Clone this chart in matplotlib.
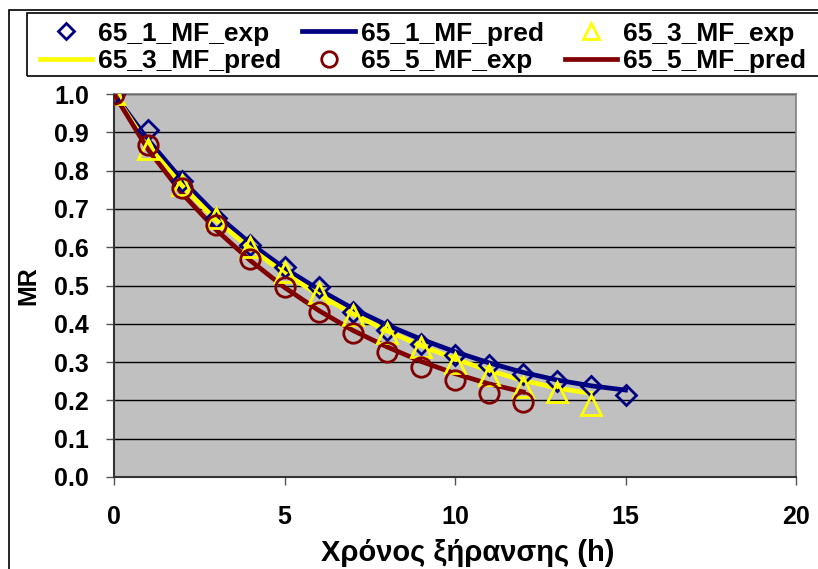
import matplotlib
matplotlib.use("Agg")
import matplotlib.pyplot as plt
from matplotlib.patches import Rectangle

plt.rcParams['font.family'] = ['Liberation Sans', 'DejaVu Sans']
plt.rcParams['font.weight'] = 'bold'

t1 = [0, 1, 2, 3, 4, 5, 6, 7, 8, 9, 10, 11, 12, 13, 14, 15]
mr1_exp = [1.0, 0.905, 0.772, 0.675, 0.607, 0.547, 0.497, 0.432, 0.385, 0.347, 0.318, 0.293, 0.27, 0.25, 0.237, 0.213]
mr1_pred = [1.0, 0.88, 0.775, 0.685, 0.61, 0.545, 0.49, 0.44, 0.397, 0.36, 0.327, 0.298, 0.273, 0.253, 0.238, 0.227]

t3 = [0, 1, 2, 3, 4, 5, 6, 7, 8, 9, 10, 11, 12, 13, 14]
mr3_exp = [1.0, 0.856, 0.762, 0.675, 0.6, 0.535, 0.48, 0.424, 0.377, 0.34, 0.298, 0.267, 0.236, 0.222, 0.188]
mr3_pred = [1.0, 0.865, 0.76, 0.67, 0.597, 0.532, 0.476, 0.426, 0.382, 0.343, 0.308, 0.278, 0.252, 0.232, 0.218]

t5 = [0, 1, 2, 3, 4, 5, 6, 7, 8, 9, 10, 11, 12]
mr5_exp = [1.0, 0.867, 0.755, 0.657, 0.57, 0.497, 0.432, 0.375, 0.327, 0.288, 0.252, 0.22, 0.197]
mr5_pred = [1.0, 0.855, 0.74, 0.645, 0.565, 0.495, 0.435, 0.383, 0.34, 0.302, 0.27, 0.243, 0.222]

xticks = [0, 5, 10, 15, 20]
yticks = [0.0, 0.1, 0.2, 0.3, 0.4, 0.5, 0.6, 0.7, 0.8, 0.9, 1.0]

W, H = 818, 569
fig = plt.figure(figsize=(W / 100, H / 100), dpi=100)
fig.patch.set_facecolor('white')

left, right, top, bottom = 114, 796, 94, 477
ax = fig.add_axes([left / W, 1 - bottom / H, (right - left) / W, (bottom - top) / H])
ax.set_facecolor('#C0C0C0')

navy = '#000080'
yel = '#FFFF00'
dred = '#800000'
FS = 18
LFS = 19

h1p, = ax.plot(t1, mr1_pred, color=navy, lw=3.4, zorder=3, label='65_1_MF_pred')
h3p, = ax.plot(t3, mr3_pred, color=yel, lw=3.4, zorder=3, label='65_3_MF_pred')
h5p, = ax.plot(t5, mr5_pred, color=dred, lw=3.4, zorder=3, label='65_5_MF_pred')
h1e, = ax.plot(t1, mr1_exp, ls='none', marker='D', ms=10.5, mfc='none', mec=navy, mew=2, zorder=4, label='65_1_MF_exp')
h3e, = ax.plot(t3, mr3_exp, ls='none', marker='^', ms=15, mfc='none', mec=yel, mew=2, zorder=4, label='65_3_MF_exp')
h5e, = ax.plot(t5, mr5_exp, ls='none', marker='o', ms=14, mfc='none', mec=dred, mew=2, zorder=5, label='65_5_MF_exp')

ax.set_xlim(0, 20)
ax.set_ylim(0, 1.0)
ax.set_xticks(xticks)
ax.set_yticks(yticks)
ax.set_xticklabels([str(v) for v in xticks], fontsize=FS, fontweight='bold')
ax.set_yticklabels(['%.1f' % v for v in yticks], fontsize=FS, fontweight='bold')
ax.yaxis.grid(True, color='black', lw=1)
ax.set_axisbelow(True)
ax.tick_params(axis='both', direction='out', length=6, width=1, color='#555555')
ax.tick_params(axis='y', pad=12)
ax.tick_params(axis='x', pad=14)
for s in ['top', 'right']:
    ax.spines[s].set_color('#808080')
    ax.spines[s].set_linewidth(1.2)
for s in ['left', 'bottom']:
    ax.spines[s].set_color('#333333')
    ax.spines[s].set_linewidth(1.5)

ax.set_xlabel('Χρόνος ξήρανσης (h)', fontsize=21, fontweight='bold')
ax.xaxis.set_label_coords(0.519, -0.163)
ax.set_ylabel('MR', fontsize=FS, fontweight='bold', labelpad=10)

# legend (row-major order)
handles = [h1e, h3p, h1p, h5e, h3e, h5p]
labels = [h.get_label() for h in handles]
leg = fig.legend(handles, labels, ncol=3, loc='upper left',
                 bbox_to_anchor=(33 / W, 1 - 15 / H), frameon=False,
                 prop={'size': LFS, 'weight': 'bold'}, borderaxespad=0.0,
                 handlelength=2.0, columnspacing=0.78, handletextpad=0.23,
                 labelspacing=0.14, borderpad=0.25, markerscale=0.8)

# legend frame
fig.patches.append(Rectangle((27 / W, 1 - 76 / H), 1.05, 63 / H, transform=fig.transFigure,
                             fill=False, edgecolor='black', lw=1.2))
# outer chart border
fig.patches.append(Rectangle((9 / W, -0.01), 1.02, 1 - 10 / H + 0.01, transform=fig.transFigure,
                             fill=False, edgecolor='black', lw=1.2))

fig.savefig('out.png', dpi=100)
